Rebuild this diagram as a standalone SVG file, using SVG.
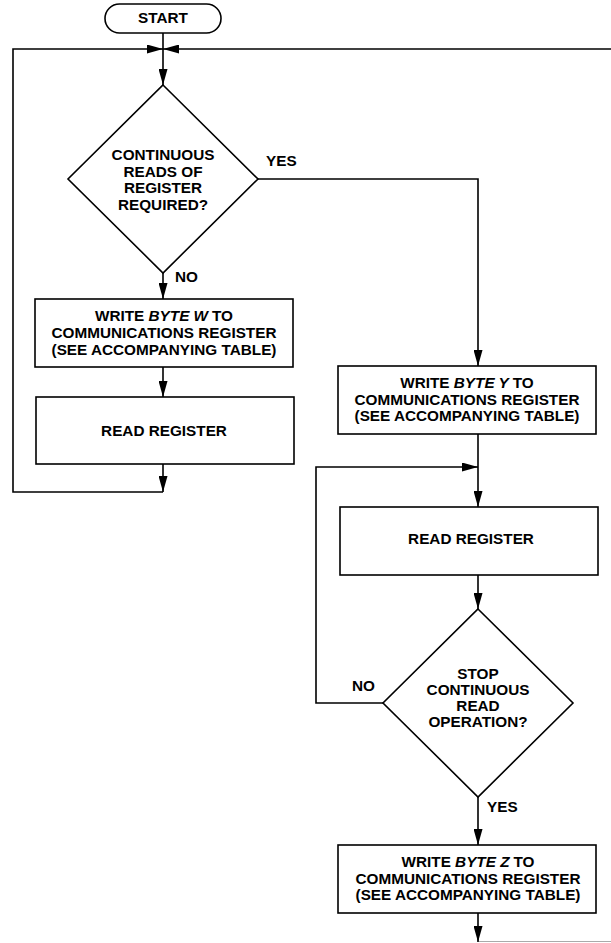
<svg xmlns="http://www.w3.org/2000/svg" width="611" height="943" viewBox="0 0 611 943">
<style>
  .shape { fill: #fff; stroke: #000; stroke-width: 1.6; }
  .line { fill: none; stroke: #000; stroke-width: 1.6; }
  .txt { font-family: "Liberation Sans", Arial, sans-serif; font-weight: bold; font-size: 15.3px; fill: #000; text-anchor: middle; }
  .lbl { font-family: "Liberation Sans", Arial, sans-serif; font-weight: bold; font-size: 15.3px; fill: #000; }
  .it { font-style: italic; }
</style>
<defs>
  <marker id="arr" markerUnits="userSpaceOnUse" markerWidth="16" markerHeight="9" refX="16" refY="4.5" orient="auto">
    <polygon points="0,0 16,4.5 0,9" fill="#000"/>
  </marker>
</defs>
<rect width="611" height="943" fill="#fff"/>
<g id="connectors">
  <path class="line" d="M163,33 V85" marker-end="url(#arr)"/>
  <path class="line" d="M163,492 H13 V49 H163" marker-end="url(#arr)"/>
  <path class="line" d="M611,49 H163" marker-end="url(#arr)"/>
  <path class="line" d="M163,273 V299" marker-end="url(#arr)"/>
  <path class="line" d="M163,367 V397" marker-end="url(#arr)"/>
  <path class="line" d="M163,464 V492" marker-end="url(#arr)"/>
  <path class="line" d="M258,179 H478 V366" marker-end="url(#arr)"/>
  <path class="line" d="M478,434 V507" marker-end="url(#arr)"/>
  <path class="line" d="M383,703 H316 V467 H478" marker-end="url(#arr)"/>
  <path class="line" d="M478,575 V609" marker-end="url(#arr)"/>
  <path class="line" d="M478,797 V845" marker-end="url(#arr)"/>
  <path class="line" d="M478,913 V942" marker-end="url(#arr)"/>
  <path d="M479,941.5 H611" fill="none" stroke="#aaa" stroke-width="1"/>
  <text class="lbl" x="266" y="166">YES</text>
  <text class="lbl" x="175" y="282">NO</text>
  <text class="lbl" x="352" y="691">NO</text>
  <text class="lbl" x="487" y="812">YES</text>
</g>
<g id="start">
  <rect class="shape" x="105" y="4" width="116" height="29" rx="14.5"/>
  <text class="txt" x="163" y="23">START</text>
</g>
<g id="decision1">
  <polygon class="shape" points="163,85 258,179 163,273 68,179"/>
  <text class="txt" x="163" y="160">CONTINUOUS</text>
  <text class="txt" x="163" y="176.5">READS OF</text>
  <text class="txt" x="163" y="193">REGISTER</text>
  <text class="txt" x="163" y="209.5">REQUIRED?</text>
</g>
<g id="writeW">
  <rect class="shape" x="35" y="299" width="258" height="68"/>
  <text class="txt" x="164" y="321">WRITE <tspan class="it">BYTE W</tspan><tspan dx="4">TO</tspan></text>
  <text class="txt" x="164" y="338">COMMUNICATIONS REGISTER</text>
  <text class="txt" x="164" y="355">(SEE ACCOMPANYING TABLE)</text>
</g>
<g id="read1">
  <rect class="shape" x="36" y="397" width="258" height="67"/>
  <text class="txt" x="164" y="436">READ REGISTER</text>
</g>
<g id="writeY">
  <rect class="shape" x="338" y="366" width="258" height="68"/>
  <text class="txt" x="467" y="388">WRITE <tspan class="it">BYTE Y</tspan><tspan dx="4">TO</tspan></text>
  <text class="txt" x="467" y="404.5">COMMUNICATIONS REGISTER</text>
  <text class="txt" x="467" y="421">(SEE ACCOMPANYING TABLE)</text>
</g>
<g id="read2">
  <rect class="shape" x="340" y="507" width="258" height="68"/>
  <text class="txt" x="471" y="544">READ REGISTER</text>
</g>
<g id="decision2">
  <polygon class="shape" points="478,609 573,703 478,797 383,703"/>
  <text class="txt" x="478" y="679">STOP</text>
  <text class="txt" x="478" y="695">CONTINUOUS</text>
  <text class="txt" x="478" y="711">READ</text>
  <text class="txt" x="478" y="727">OPERATION?</text>
</g>
<g id="writeZ">
  <rect class="shape" x="338" y="845" width="258" height="68"/>
  <text class="txt" x="468" y="867">WRITE <tspan class="it">BYTE Z</tspan><tspan dx="4">TO</tspan></text>
  <text class="txt" x="468" y="883.5">COMMUNICATIONS REGISTER</text>
  <text class="txt" x="468" y="900">(SEE ACCOMPANYING TABLE)</text>
</g>
</svg>
